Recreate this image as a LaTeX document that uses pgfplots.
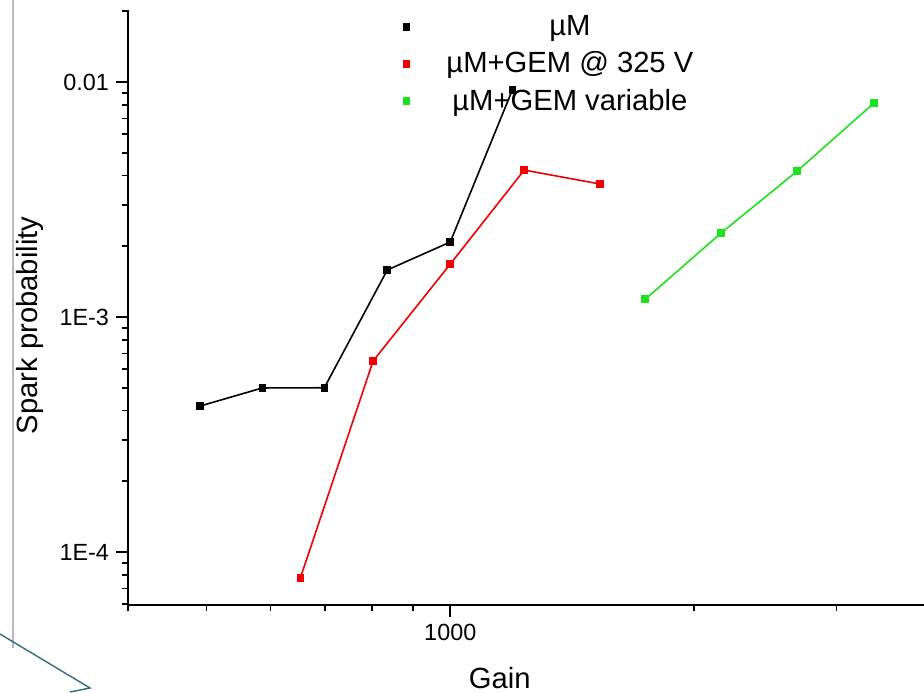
\documentclass[border=0pt]{standalone}
\usepackage{fontspec}
\setmainfont{Liberation Sans}
\usepackage{pgfplots}
\pgfplotsset{compat=1.18}
\definecolor{orgreen}{RGB}{30,225,30}
\definecolor{orred}{RGB}{240,0,0}
\definecolor{slideteal}{RGB}{50,110,125}

\begin{document}
\begin{tikzpicture}
\useasboundingbox (-64pt,-43.5pt) rectangle (398pt,302.5pt);
% slide leftovers around the chart
\draw[gray!55, line width=1.2pt] (-57.5pt,302.5pt) -- (-57.5pt,-21.5pt);
\draw[slideteal, line width=0.7pt] (-64pt,-14.5pt) -- (-19pt,-41.5pt) -- (-29pt,-43.5pt);
\begin{axis}[at={(0,0)}, anchor=south west, scale only axis,
  width=398pt, height=297.5pt,
  xmode=log, ymode=log,
  xmin=400, xmax=3847, ymin=5.95e-5, ymax=0.02025,
  axis lines*=left, axis line style={line width=0.8pt},
  tick align=outside, tick style={black, line width=0.8pt},
  major tick length=6pt, minor tick length=3.2pt,
  xtick={1000}, xticklabels={1000},
  minor xtick={400,500,600,700,800,900,2000,3000},
  ytick={1e-4,1e-3,1e-2}, yticklabels={1E-4,1E-3,0.01},
  minor ytick={6e-5,7e-5,8e-5,9e-5,2e-4,3e-4,4e-4,5e-4,6e-4,7e-4,8e-4,9e-4,
    2e-3,3e-3,4e-3,5e-3,6e-3,7e-3,8e-3,9e-3,2e-2},
  tick label style={font=\fontsize{11.7}{14}\selectfont},
  /pgf/number format/assume math mode=true,
  xlabel={Gain}, ylabel={Spark probability},
  label style={font=\fontsize{14.6}{17}\selectfont},
  xlabel style={at={(axis description cs:0.467,-0.1227)}, anchor=center},
  ylabel style={at={(axis description cs:-0.1232,0.47)}, anchor=center},
  legend style={at={(axis description cs:0.53,1.003)}, anchor=north,
    draw=none, fill=none, font=\fontsize{14.6}{17}\selectfont,
    row sep=3.5pt, nodes={inner sep=1.5pt},
    /tikz/every odd column/.append style={column sep=17pt}},
  legend cell align=center,
  legend image post style={only marks},
  every axis plot/.append style={line width=0.8pt, mark=square*, mark size=1.5pt},
]
\addplot[black, mark options={fill=black}] coordinates {
  (491,4.18e-4) (586,4.99e-4) (699,5.0e-4) (836,1.585e-3) (1000,2.085e-3) (1193,9.24e-3)};
\addlegendentry{µM}
\addplot[orred, mark options={fill=orred}] coordinates {
  (653,7.75e-5) (803,6.5e-4) (1000,1.68e-3) (1234,4.22e-3) (1532,3.68e-3)};
\addlegendentry{µM+GEM @ 325 V}
\addplot[orgreen, mark options={fill=orgreen}] coordinates {
  (1741,1.19e-3) (2161,2.28e-3) (2682,4.18e-3) (3337,8.14e-3)};
\addlegendentry{µM+GEM variable}
\end{axis}
\end{tikzpicture}
\end{document}
